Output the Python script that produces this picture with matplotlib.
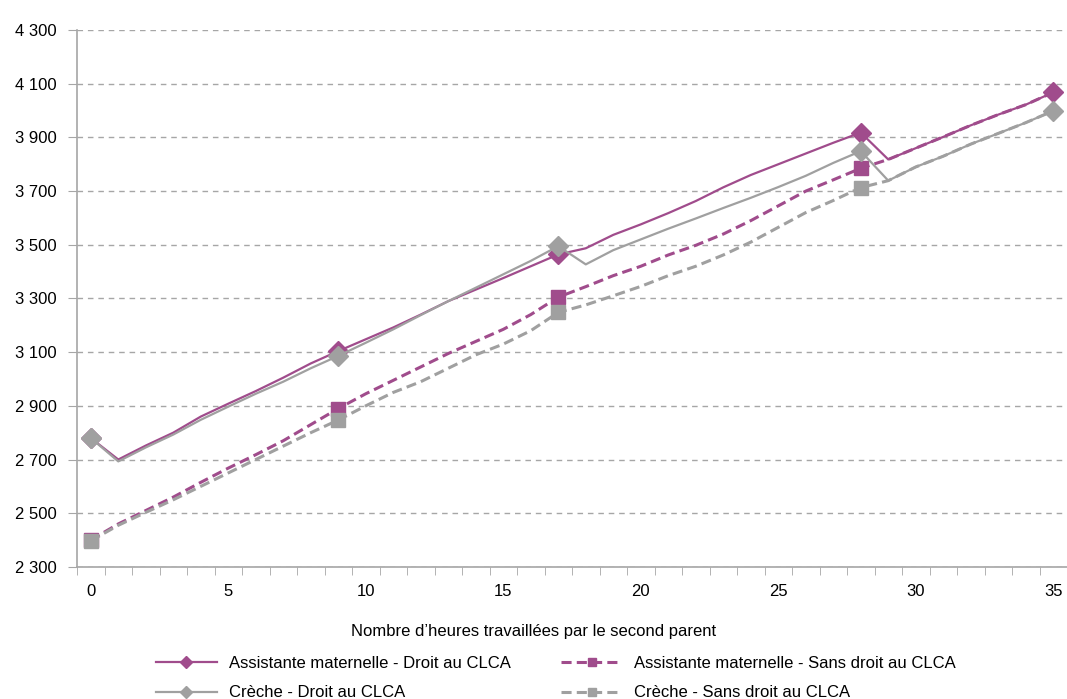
import matplotlib
matplotlib.use("Agg")
import matplotlib.pyplot as plt
from matplotlib.ticker import FuncFormatter, FixedLocator

plt.rcParams['font.family'] = ['Liberation Sans', 'DejaVu Sans']

# Hours worked by the second parent (one category per hour)
hours = list(range(36))

# Disposable income by childcare mode, with / without CLCA entitlement
am_droit = [2780, 2700, 2752, 2800, 2860, 2908, 2955, 3005, 3058, 3104,
            3148, 3192, 3240, 3290, 3333, 3376, 3420, 3464, 3487, 3537,
            3576, 3618, 3663, 3714, 3760, 3800, 3840, 3880, 3918, 3818,
            3860, 3902, 3945, 3985, 4022, 4068]
creche_droit = [2780, 2693, 2745, 2793, 2848, 2897, 2945, 2990, 3040, 3086,
                3135, 3185, 3238, 3290, 3340, 3390, 3440, 3495, 3427, 3480,
                3520, 3560, 3598, 3637, 3675, 3715, 3757, 3805, 3849, 3739,
                3790, 3830, 3875, 3915, 3955, 3999]
am_sans = [2400, 2460, 2510, 2560, 2615, 2668, 2718, 2770, 2830, 2890,
           2945, 2995, 3045, 3095, 3140, 3185, 3240, 3305, 3344, 3385,
           3420, 3462, 3498, 3540, 3590, 3645, 3700, 3742, 3785, 3818,
           3860, 3902, 3945, 3985, 4022, 4068]
creche_sans = [2397, 2455, 2503, 2550, 2600, 2650, 2700, 2750, 2800, 2847,
               2900, 2950, 2990, 3040, 3090, 3130, 3180, 3248, 3276, 3310,
               3345, 3385, 3420, 3462, 3510, 3565, 3620, 3665, 3713, 3739,
               3790, 3830, 3875, 3915, 3955, 3999]

y_ticks = list(range(2300, 4301, 200))
x_labels = list(range(0, 36, 5))

marked_solid = [0, 9, 17, 28, 35]
marked_dash = [0, 9, 17, 28]

purple = '#A04C8C'
grey = '#A0A0A0'
axis_grey = '#A6A6A6'

fig = plt.figure(figsize=(10.67, 6.99), dpi=100)
ax = fig.add_axes([0.0722, 0.189, 0.9278, 0.768])

dash_style = (0, (3.3, 1.7))
l_as, = ax.plot(hours, am_sans, color=purple, lw=2.2, linestyle=dash_style,
                marker='s', ms=10, markevery=marked_dash, zorder=3,
                label='Assistante maternelle - Sans droit au CLCA')
l_cs, = ax.plot(hours, creche_sans, color=grey, lw=2.2, linestyle=dash_style,
                marker='s', ms=10, markevery=marked_dash, zorder=3,
                label='Crèche - Sans droit au CLCA')
l_ad, = ax.plot(hours, am_droit, color=purple, lw=1.6, marker='D', ms=10,
                markevery=marked_solid, zorder=4,
                label='Assistante maternelle - Droit au CLCA')
l_cd, = ax.plot(hours, creche_droit, color=grey, lw=1.6, marker='D', ms=10,
                markevery=marked_solid, zorder=5,
                label='Crèche - Droit au CLCA')

ax.set_xlim(-0.5, 35.5)
ax.set_ylim(2300, 4300)

# y axis: dashed grid, thousands separated by a space
ax.yaxis.set_major_locator(FixedLocator(y_ticks))
ax.yaxis.set_major_formatter(FuncFormatter(lambda v, p: f"{int(v):,}".replace(",", " ")))
ax.grid(axis='y', color=axis_grey, linestyle=(0, (4, 3.5)), lw=1)
ax.tick_params(axis='y', length=6.5, color=axis_grey, labelsize=12, pad=8)

# x axis: ticks between categories, labels every 5 hours
ax.xaxis.set_major_locator(FixedLocator(x_labels))
ax.xaxis.set_minor_locator(FixedLocator([h - 0.5 for h in range(37)]))
ax.tick_params(axis='x', which='major', length=0, labelsize=12, pad=12)
ax.tick_params(axis='x', which='minor', length=6, color=axis_grey)

for side in ['top', 'right']:
    ax.spines[side].set_visible(False)
for side in ['left', 'bottom']:
    ax.spines[side].set_color(axis_grey)
    ax.spines[side].set_linewidth(1.2)
ax.set_axisbelow(True)

fig.text(0.5, 0.097, "Nombre d\u2019heures travaillées par le second parent",
         ha='center', va='center', fontsize=12)

leg = fig.legend(handles=[l_ad, l_cd, l_as, l_cs], ncol=2, frameon=False,
                 loc='upper left', bbox_to_anchor=(0.138, 0.073),
                 fontsize=12, handlelength=3.7, handletextpad=0.7,
                 columnspacing=3.0, labelspacing=0.85, borderpad=0,
                 markerscale=0.6)

fig.savefig('out.png', dpi=100)
